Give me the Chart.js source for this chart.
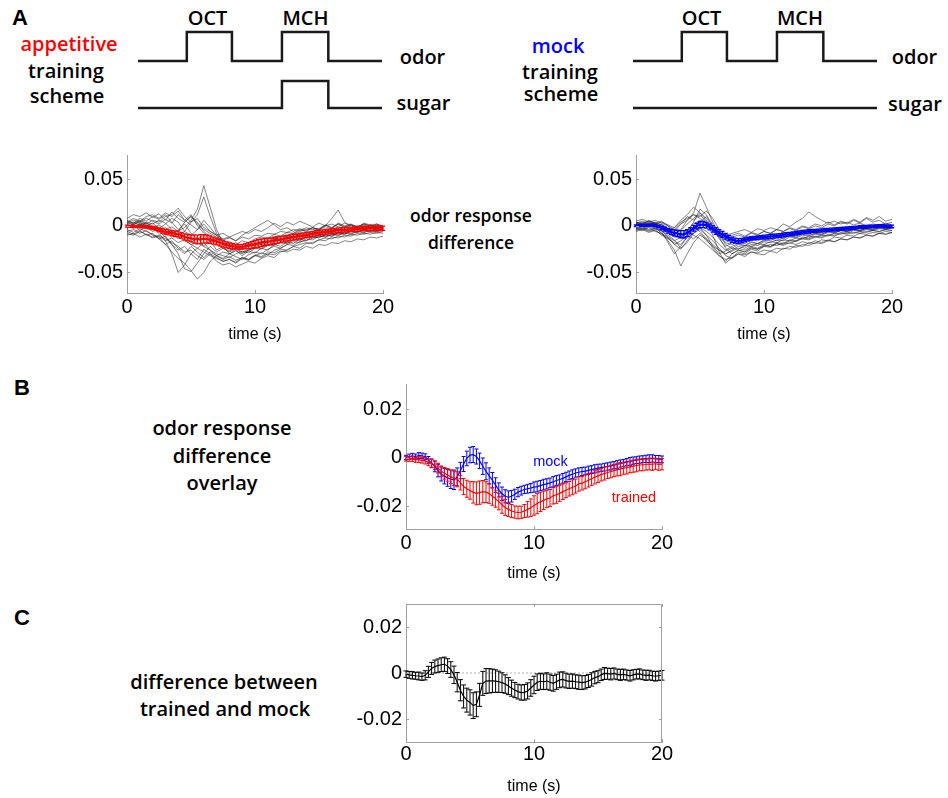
<!DOCTYPE html>
<html>
<head>
<meta charset="utf-8">
<script src="https://cdn.jsdelivr.net/npm/chart.js@4.4.1/dist/chart.umd.min.js"></script>
<style>
  body { margin: 0; background: #fff; width: 948px; height: 798px; overflow: hidden; position: relative; font-family: 'Open Sans', sans-serif; }
  canvas { position: absolute; }
  .lbl { position: absolute; transform: translate(-50%, -50%); line-height: 1; white-space: nowrap; font-weight: 600; color: #000; }
  .s20 { font-size: 20px; }
  .s17 { font-size: 17.5px; }
  .head { font-family: 'Liberation Sans', Arial, sans-serif; font-weight: 700; font-size: 22px; }
  .arial { font-family: 'Liberation Sans', Arial, sans-serif; font-weight: 400; font-size: 14.5px; }
</style>
</head>
<body>

<!-- panel A: training schemes -->
<div class="lbl head" style="left:20px;top:17.5px">A</div>
<div class="lbl s20" style="left:207.5px;top:17.6px">OCT</div>
<div class="lbl s20" style="left:305.5px;top:17.6px">MCH</div>
<div class="lbl s20" style="left:69px;top:44.3px;color:#ff0000">appetitive</div>
<div class="lbl s20" style="left:66px;top:71px">training</div>
<div class="lbl s20" style="left:67px;top:96px">scheme</div>
<div class="lbl s20" style="left:422.5px;top:57px">odor</div>
<div class="lbl s20" style="left:423.5px;top:102.6px">sugar</div>

<div class="lbl s20" style="left:701.5px;top:17.6px">OCT</div>
<div class="lbl s20" style="left:800px;top:17.6px">MCH</div>
<div class="lbl s20" style="left:558px;top:46px;color:#0000ff">mock</div>
<div class="lbl s20" style="left:560px;top:71.6px">training</div>
<div class="lbl s20" style="left:561px;top:93.5px">scheme</div>
<div class="lbl s20" style="left:914.5px;top:56.6px">odor</div>
<div class="lbl s20" style="left:915px;top:104.3px">sugar</div>

<div class="lbl s17" style="left:471px;top:216px">odor response</div>
<div class="lbl s17" style="left:471px;top:243px">difference</div>

<!-- panel B -->
<div class="lbl head" style="left:22px;top:388px">B</div>
<div class="lbl s20" style="left:222px;top:427.6px">odor response</div>
<div class="lbl s20" style="left:222px;top:455.6px">difference</div>
<div class="lbl s20" style="left:222px;top:482.6px">overlay</div>

<!-- panel C -->
<div class="lbl head" style="left:22px;top:618px">C</div>
<div class="lbl s20" style="left:224px;top:681.6px">difference between</div>
<div class="lbl s20" style="left:225px;top:708.6px">trained and mock</div>

<canvas id="schemeApp" width="260" height="96" style="left:130px;top:22px"></canvas>
<canvas id="schemeMock" width="260" height="96" style="left:625px;top:22px"></canvas>
<canvas id="traceTrained" width="336" height="207" style="left:67px;top:137px"></canvas>
<canvas id="traceMock" width="336" height="207" style="left:576px;top:137px"></canvas>
<canvas id="overlay" width="336" height="217" style="left:346px;top:366px"></canvas>
<canvas id="diff" width="336" height="210" style="left:346px;top:586px"></canvas>

<div class="lbl arial" style="left:550.5px;top:461px;color:#0000ff">mock</div>
<div class="lbl arial" style="left:634px;top:496.7px;color:#ff0000">trained</div>

<script>
// Scheme steps (time in % of trial, level 0/1)
const schemeX = [0, 20, 38.5, 59, 78, 100];
const odorOn = [0, 1, 0, 1, 0, 0];
const sugarAppetitive = [0, 0, 0, 1, 0, 0];
const sugarMock = [0, 0, 0, 0, 0, 0];

// Time bases (s)
const traceTime = [0, 0.5, 1, 1.5, 2, 2.5, 3, 3.5, 4, 4.5, 5, 5.5, 6, 6.5, 7, 7.5, 8, 8.5, 9, 9.5,
    10, 10.5, 11, 11.5, 12, 12.5, 13, 13.5, 14, 14.5, 15, 15.5, 16, 16.5, 17, 17.5, 18, 18.5, 19, 19.5, 20];
const meanTime = [0, 0.25, 0.5, 0.75, 1, 1.25, 1.5, 1.75, 2, 2.25, 2.5, 2.75, 3, 3.25, 3.5, 3.75,
    4, 4.25, 4.5, 4.75, 5, 5.25, 5.5, 5.75, 6, 6.25, 6.5, 6.75, 7, 7.25, 7.5, 7.75,
    8, 8.25, 8.5, 8.75, 9, 9.25, 9.5, 9.75, 10, 10.25, 10.5, 10.75, 11, 11.25, 11.5, 11.75,
    12, 12.25, 12.5, 12.75, 13, 13.25, 13.5, 13.75, 14, 14.25, 14.5, 14.75, 15, 15.25, 15.5, 15.75,
    16, 16.25, 16.5, 16.75, 17, 17.25, 17.5, 17.75, 18, 18.25, 18.5, 18.75, 19, 19.25, 19.5, 19.75, 20];

// Individual odor response differences, appetitive training
const trainedTraces = [
    [.002,.004,.001,.003,0,-.004,-.002,-.008,-.005,-.002,.006,.018,.043,.02,-.004,-.018,-.026,-.024,-.028,-.025,-.022,-.02,-.021,-.017,-.015,-.016,-.012,-.01,-.011,-.008,-.006,-.008,-.005,-.004,-.006,-.003,-.002,-.004,-.001,-.003,-.002],
    [-.003,.001,-.002,.004,.002,.006,.003,-.004,-.01,-.006,.004,.012,.031,.01,-.008,-.016,-.02,-.018,-.022,-.02,-.017,-.018,-.014,-.013,-.015,-.011,-.009,-.01,-.007,-.008,-.005,-.006,-.003,-.005,-.002,-.004,-.001,-.003,.001,-.002,-.001],
    [-.006,-.004,-.008,-.005,-.01,-.012,-.02,-.028,-.035,-.04,-.048,-.057,-.05,-.038,-.032,-.035,-.03,-.033,-.036,-.031,-.028,-.03,-.025,-.022,-.024,-.02,-.017,-.018,-.014,-.015,-.011,-.012,-.009,-.01,-.008,-.009,-.006,-.007,-.005,-.006,-.004],
    [.004,.001,.006,.003,-.002,-.008,-.016,-.03,-.05,-.042,-.03,-.036,-.025,-.03,-.034,-.038,-.036,-.04,-.035,-.037,-.032,-.029,-.031,-.026,-.024,-.02,-.021,-.017,-.016,-.013,-.012,-.01,-.011,-.008,-.009,-.006,-.007,-.004,-.006,-.005,-.003],
    [.008,.012,.01,.014,.009,.013,.006,.015,.008,.004,.01,.002,-.004,-.008,-.012,-.015,-.013,-.016,-.012,-.014,-.01,-.011,-.008,-.009,-.006,-.007,-.004,-.005,-.002,-.004,-.003,.001,-.002,.002,-.001,.001,-.002,.003,.001,.002,-.001],
    [-.002,.003,.005,.002,.006,.004,.01,.012,.019,.01,.004,.008,-.002,-.006,-.01,-.018,-.022,-.02,-.024,-.019,-.021,-.017,-.018,-.014,-.016,-.012,-.013,-.01,-.011,-.008,-.009,-.006,-.007,-.004,-.005,-.003,-.004,-.002,-.003,-.001,-.002],
    [.001,-.003,.002,-.001,-.004,-.002,-.008,-.006,-.012,-.016,-.02,-.018,-.022,-.026,-.03,-.032,-.034,-.03,-.027,-.029,-.024,-.022,-.018,-.015,-.012,-.01,-.008,-.006,-.004,-.002,-.004,0,.008,.017,.004,-.002,-.004,-.001,-.003,0,-.002],
    [-.008,-.01,-.006,-.009,-.012,-.01,-.014,-.018,-.022,-.028,-.026,-.032,-.036,-.03,-.038,-.042,-.04,-.044,-.041,-.038,-.04,-.035,-.032,-.034,-.028,-.026,-.022,-.024,-.019,-.018,-.015,-.016,-.012,-.013,-.01,-.011,-.008,-.009,-.007,-.008,-.006],
    [.005,.002,.004,0,.003,-.003,.002,.008,.004,-.006,-.01,-.004,.006,-.002,-.01,-.014,-.012,-.016,-.01,-.006,-.002,.002,.006,.001,-.004,-.002,-.006,-.003,-.005,-.002,-.004,-.001,-.003,.002,-.002,.001,-.003,.001,-.002,.002,0],
    [-.004,-.007,-.003,-.006,-.009,-.014,-.011,-.02,-.026,-.022,-.03,-.024,-.018,-.026,-.032,-.028,-.03,-.027,-.03,-.026,-.024,-.025,-.021,-.02,-.018,-.019,-.015,-.016,-.012,-.013,-.01,-.012,-.009,-.01,-.007,-.008,-.006,-.007,-.005,-.006,-.005],
    [0,-.002,.002,-.003,-.001,-.006,-.012,-.02,-.03,-.046,-.049,-.04,-.03,-.022,-.028,-.024,-.027,-.023,-.025,-.021,-.019,-.02,-.016,-.017,-.013,-.014,-.011,-.012,-.009,-.01,-.007,-.008,-.006,-.007,-.004,-.006,-.003,-.005,-.002,-.004,-.003],
    [.003,.006,.004,.008,.005,.002,.007,.003,.012,.006,.001,-.004,.002,-.006,-.01,-.008,-.012,-.009,-.006,-.008,-.004,-.006,-.002,.003,-.001,.004,.001,.005,.002,-.001,.003,0,.002,-.001,.003,.001,-.001,.002,0,-.002,-.001],
    [-.01,-.008,-.012,-.009,-.013,-.011,-.016,-.013,-.018,-.015,-.02,-.024,-.028,-.032,-.035,-.038,-.036,-.039,-.034,-.036,-.031,-.033,-.028,-.029,-.025,-.026,-.022,-.02,-.018,-.019,-.015,-.013,-.014,-.011,-.012,-.009,-.01,-.008,-.009,-.007,-.008],
    [.006,.003,.008,.005,.01,.007,.012,.004,-.004,.002,-.008,-.014,-.01,-.018,-.014,-.02,-.024,-.021,-.025,-.022,-.02,-.016,-.018,-.013,-.015,-.011,-.012,-.008,-.009,-.006,-.008,-.005,-.003,-.004,-.001,-.003,0,-.002,.001,-.001,0],
    [-.002,.002,-.005,-.001,-.006,-.003,-.01,-.006,-.014,-.01,-.018,-.012,-.022,-.016,-.026,-.022,-.03,-.026,-.032,-.027,-.029,-.024,-.026,-.02,-.022,-.017,-.019,-.014,-.016,-.011,-.013,-.009,-.011,-.007,-.009,-.005,-.007,-.004,-.006,-.003,-.005],
    [.004,.008,.005,.01,.012,.008,.014,.01,.016,.006,.012,0,-.008,-.014,-.02,-.024,-.028,-.025,-.029,-.026,-.023,-.024,-.02,-.021,-.017,-.018,-.014,-.015,-.011,-.012,-.009,-.01,-.007,-.008,-.005,-.006,-.004,-.005,-.003,-.004,-.002],
    [-.006,-.009,-.005,-.01,-.008,-.014,-.02,-.016,-.024,-.03,-.022,-.028,-.034,-.028,-.032,-.036,-.033,-.037,-.034,-.036,-.032,-.034,-.03,-.031,-.027,-.028,-.025,-.026,-.022,-.024,-.02,-.021,-.018,-.019,-.016,-.017,-.014,-.015,-.012,-.013,-.011],
    [.002,-.001,.003,.001,-.002,.001,-.004,-.001,-.006,.004,.01,.004,-.006,-.012,-.016,-.019,-.017,-.02,-.016,-.018,-.014,-.012,-.013,-.009,-.011,-.007,-.008,-.004,-.006,-.002,-.004,.001,-.002,.003,0,.002,-.001,.002,0,.001,-.001]
];

// Individual odor response differences, mock training
const mockTraces = [
    [.002,.004,.001,.003,-.002,-.006,-.01,-.004,.006,.014,.035,.02,.004,-.008,-.02,-.024,-.02,-.022,-.018,-.019,-.015,-.016,-.012,-.014,-.01,-.011,-.008,-.009,-.006,-.007,-.004,-.005,-.003,-.004,-.001,-.002,0,-.001,.001,0,-.001],
    [-.003,-.001,-.004,-.002,-.008,-.016,-.026,-.043,-.03,-.018,-.01,-.014,-.02,-.026,-.03,-.026,-.022,-.024,-.02,-.021,-.017,-.018,-.015,-.016,-.012,-.013,-.01,-.011,-.008,-.009,-.006,-.007,-.005,-.006,-.004,-.005,-.003,-.004,-.002,-.003,-.002],
    [.004,.002,.005,.003,.001,-.004,-.002,.006,.012,.02,.014,.006,-.01,-.028,-.04,-.034,-.028,-.03,-.025,-.027,-.022,-.023,-.019,-.02,-.016,-.017,-.013,-.014,-.011,-.012,-.009,-.01,-.007,-.008,-.005,-.006,-.004,-.005,-.003,-.004,-.002],
    [.001,.003,.005,.002,.004,.001,-.002,.004,.008,.012,.01,.016,.008,-.004,-.01,-.008,-.006,-.004,-.007,-.003,-.005,-.002,-.004,.002,-.001,.004,.008,.015,.01,.006,.003,.005,.002,.004,.001,.003,0,.002,.001,.003,.001],
    [-.005,-.003,-.006,-.004,-.01,-.014,-.018,-.02,-.012,-.008,-.004,-.01,-.016,-.024,-.032,-.035,-.03,-.033,-.028,-.03,-.031,-.027,-.029,-.024,-.025,-.021,-.022,-.018,-.019,-.015,-.016,-.012,-.013,-.01,-.011,-.008,-.009,-.007,-.008,-.006,-.007],
    [0,.002,-.001,.001,-.003,-.008,-.012,-.01,-.004,.002,.006,.002,-.004,-.012,-.018,-.02,-.017,-.019,-.015,-.016,-.013,-.014,-.011,-.012,-.009,-.01,-.007,-.008,-.006,-.007,-.005,-.006,-.004,-.005,-.003,-.002,-.003,-.001,-.002,0,-.001],
    [-.002,-.004,-.001,-.003,-.006,-.018,-.03,-.022,-.012,-.004,.004,.01,.002,-.01,-.016,-.014,-.018,-.012,-.014,-.01,-.012,-.008,-.01,-.007,-.009,-.006,-.008,-.005,-.007,-.004,-.006,-.003,-.005,-.002,-.004,-.001,-.003,0,-.002,.001,-.001],
    [.003,.001,.004,.002,-.001,-.006,-.004,-.012,-.008,-.002,-.006,-.014,-.024,-.032,-.038,-.03,-.026,-.028,-.024,-.025,-.022,-.02,-.021,-.018,-.019,-.016,-.014,-.015,-.012,-.013,-.01,-.011,-.008,-.009,-.007,-.008,-.006,-.005,-.006,-.004,-.005],
    [.005,.007,.004,.006,.003,0,-.006,.002,.01,.006,.012,.004,-.002,-.008,-.012,-.01,-.008,-.011,-.007,-.009,-.006,-.008,-.004,-.006,-.003,-.005,-.001,-.003,0,-.002,.002,0,.004,.002,.006,.003,.008,.004,.006,.002,.004],
    [-.006,-.004,-.007,-.005,-.009,-.013,-.02,-.016,-.01,-.014,-.008,-.016,-.022,-.026,-.03,-.027,-.024,-.026,-.022,-.024,-.02,-.022,-.019,-.021,-.018,-.02,-.017,-.019,-.016,-.018,-.015,-.017,-.014,-.015,-.012,-.013,-.01,-.011,-.008,-.009,-.007],
    [.001,-.001,.002,0,.002,-.003,-.009,-.014,-.006,.004,.018,.012,-.002,-.014,-.022,-.018,-.016,-.013,-.015,-.011,-.013,-.009,-.011,-.008,-.01,-.006,-.008,-.005,-.007,-.004,-.006,-.003,-.004,-.002,-.003,-.001,-.002,0,-.001,.001,0],
    [-.004,-.002,-.005,-.003,-.005,-.01,-.015,-.024,-.018,-.008,-.002,-.006,-.012,-.02,-.026,-.022,-.019,-.021,-.017,-.019,-.016,-.014,-.016,-.013,-.011,-.012,-.009,-.01,-.008,-.009,-.006,-.007,-.005,-.006,-.004,-.005,-.003,-.004,-.002,-.003,-.002],
    [.003,.005,.002,.004,.001,-.003,-.008,-.005,.002,.008,.014,.008,0,-.012,-.024,-.03,-.026,-.028,-.023,-.025,-.021,-.022,-.018,-.019,-.015,-.016,-.012,-.013,-.009,-.01,-.007,-.008,-.005,-.006,-.004,-.005,-.002,-.003,-.001,-.002,0],
    [-.001,-.003,0,-.002,-.005,-.012,-.02,-.025,-.016,-.006,-.002,-.01,-.022,-.03,-.027,-.024,-.025,-.021,-.022,-.019,-.02,-.017,-.018,-.015,-.016,-.013,-.014,-.011,-.012,-.01,-.011,-.008,-.009,-.007,-.008,-.006,-.007,-.005,-.006,-.004,-.005],
    [.004,.002,.006,.003,.005,0,-.004,.002,.006,.012,.008,.003,-.006,-.01,-.014,-.012,-.01,-.012,-.008,-.01,-.006,-.008,-.004,-.006,-.002,-.004,0,-.002,.002,0,.004,.001,.005,.003,.007,.004,.009,.006,.01,.005,.007],
    [-.003,-.005,-.002,-.006,-.008,-.012,-.016,-.012,-.006,-.01,-.014,-.02,-.026,-.032,-.036,-.034,-.03,-.031,-.028,-.029,-.026,-.027,-.024,-.025,-.022,-.023,-.02,-.021,-.018,-.019,-.016,-.017,-.014,-.015,-.012,-.013,-.01,-.011,-.008,-.009,-.007]
];

// Means and SEM (0.25 s bins)
const trainedMean = [
    -.0003,-.0005,-.0004,-.0008, -.0007,-.0010,-.0012,-.0018, -.0022,-.0030,-.0042,-.0055,
    -.0063,-.0070,-.0078,-.0084, -.0088,-.0102,-.0118,-.0127, -.0134,-.0142,-.0146,-.0143,
    -.0139,-.0141,-.0147,-.0158, -.0168,-.0180,-.0193,-.0204, -.0212,-.0219,-.0223,-.0225,
    -.0224,-.0219,-.0212,-.0205, -.0196,-.0188,-.0181,-.0175, -.0169,-.0165,-.0156,-.0152,
    -.0146,-.0139,-.0133,-.0127, -.0121,-.0116,-.0107,-.0104, -.0098,-.0092,-.0086,-.0079,
    -.0074,-.0069,-.0064,-.0060, -.0056,-.0052,-.0048,-.0046, -.0042,-.0040,-.0037,-.0034,
    -.0031,-.0029,-.0028,-.0027, -.0025,-.0026,-.0024,-.0027, -.0026];
const trainedSem = [
    .0010,.0009,.0011,.0010,.0012,.0011,.0013,.0014,
    .0016,.0018,.0020,.0022,.0024,.0026,
    .0028,.0030,.0031,.0030,
    .0033,.0035,.0036,
    .0044,.0047,.0048,.0046,.0043,
    .0040,.0037,.0035,.0034,.0035,.0033,
    .0029,.0027,.0025,.0026,.0025,.0027,
    .0032,.0036,.0040,.0042,.0040,.0038,
    .0036,.0035,.0034,.0035,.0033,.0032,.0031,.0030,
    .0031,.0029,.0030,.0028,.0029,.0028,.0027,.0028,
    .0027,.0026,.0027,.0025,.0026,.0025,.0026,.0027,.0025,.0026,.0024,.0025,.0026,.0024,.0025,.0023,.0024,.0025,.0023,.0024,.0023];

const mockMean = [
    .0002,.0006,.0008,.0006, .0010,.0009,.0005,-.0008, -.0022,-.0035,-.0052,-.0066,
    -.0075,-.0082,-.0088,-.0090, -.0078,-.0052,-.0025,-.0002, .0012,.0014,.0006,-.0012,
    -.0034,-.0055,-.0074,-.0092, -.0112,-.0132,-.0148,-.0158, -.0162,-.0158,-.0150,-.0141,
    -.0135,-.0130,-.0127,-.0124, -.0120,-.0118,-.0114,-.0110, -.0107,-.0103,-.0098,-.0093,
    -.0089,-.0084,-.0078,-.0072, -.0067,-.0062,-.0059,-.0056, -.0054,-.0051,-.0048,-.0045,
    -.0042,-.0040,-.0038,-.0035, -.0033,-.0030,-.0027,-.0023, -.0020,-.0017,-.0014,-.0011,
    -.0009,-.0007,-.0005,-.0004, -.0003,-.0002,-.0004,-.0005, -.0006];
const mockSem = [
    .0009,.0010,.0011,.0010,.0012,.0011,.0012,.0014,
    .0018,.0022,.0026,.0029,
    .0032,.0035,.0038,.0040,.0037,.0034,
    .0031,.0030,.0032,.0033,.0031,.0032,
    .0034,.0035,.0033,.0032,
    .0030,.0029,.0028,.0027,.0026,.0024,
    .0021,.0019,.0018,.0017,.0018,.0019,
    .0021,.0022,.0021,.0022,.0021,.0020,.0021,.0020,.0019,.0020,.0019,.0018,
    .0018,.0017,.0018,.0017,.0016,.0017,.0016,.0017,.0016,.0015,.0016,.0015,.0016,.0015,.0016,
    .0015,.0014,.0015,.0016,.0015,.0014,.0015,.0014,.0015,.0016,.0015,.0014,.0015,.0014];

const diffMean = [
    -.0005,-.0008,-.0010,-.0012, -.0013,-.0016,-.0010,.0005, .0020,.0028,.0032,.0036,
    .0038,.0030,.0015,-.0008, -.0040,-.0075,-.0102,-.0118, -.0128,-.0142,-.0136,-.0095,
    -.0045,-.0035,-.0034,-.0034, -.0035,-.0038,-.0042,-.0048, -.0057,-.0066,-.0074,-.0081,
    -.0085,-.0084,-.0078,-.0065, -.0052,-.0040,-.0036,-.0038, -.0035,-.0040,-.0045,-.0038,
    -.0030,-.0028,-.0033,-.0036, -.0035,-.0038,-.0040,-.0042, -.0040,-.0035,-.0028,-.0020,
    -.0016,-.0008,-.0002,-.0003, -.0005,-.0002,-.0006,-.0008, -.0006,-.0009,-.0012,-.0008,
    -.0005,-.0004,-.0008,-.0010, -.0009,-.0012,-.0014,-.0012, -.0010];
const diffSem = [
    .0014,.0015,.0016,.0015,.0017,.0016,
    .0020,.0024,.0026,.0028,.0029,.0030,.0031,.0032,
    .0034,.0038,
    .0042,.0046,.0050,.0052,.0055,.0056,.0054,.0050,
    .0052,.0054,.0053,.0051,.0049,.0046,.0043,.0040,
    .0037,.0035,.0033,.0032,.0033,.0034,.0035,.0036,
    .0038,.0036,.0035,.0034,.0036,.0035,.0034,.0033,.0034,.0033,.0032,.0031,
    .0031,.0030,.0031,.0030,.0029,.0028,.0029,.0027,
    .0026,.0025,.0026,.0024,.0025,.0024,.0023,.0024,.0023,.0022,.0023,.0022,.0021,.0022,.0021,.0022,.0021,.0020,.0021,.0020,.0021];

const zeroLineX = [0, 20];
const zeroLineY = [0, 0];

// Axis ticks
const xTicks = [0, 10, 20];
const aYTicks = [-0.05, 0, 0.05];
const aYLabels = ['-0.05', '0', '0.05'];
const bcYTicks = [-0.02, 0, 0.02];
const bcYLabels = ['-0.02', '0', '0.02'];

const AXIS_GRAY = '#a0a0a0';
const TICK_FONT = { family: "'Liberation Sans', Arial, sans-serif", size: 20 };
Chart.defaults.font.family = TICK_FONT.family;
Chart.defaults.color = '#000';

function pts(xs, ys) {
    return xs.map((x, i) => ({ x: x, y: ys[i] }));
}

// vertical error bars with caps, drawn right after their dataset
const errorBars = {
    id: 'errorBars',
    afterDatasetDraw(chart, args) {
        const ds = chart.data.datasets[args.index];
        if (!ds.errors) return;
        const yScale = chart.scales.y;
        const ctx = chart.ctx;
        const cap = ds.capHalf || 2;
        ctx.save();
        ctx.strokeStyle = ds.borderColor;
        ctx.lineWidth = ds.errWidth || 1;
        ctx.beginPath();
        args.meta.data.forEach((pt, k) => {
            const v = ds.data[k].y;
            const e = ds.errors[k];
            const top = yScale.getPixelForValue(v + e);
            const bot = yScale.getPixelForValue(v - e);
            ctx.moveTo(pt.x, top); ctx.lineTo(pt.x, bot);
            ctx.moveTo(pt.x - cap, top); ctx.lineTo(pt.x + cap, top);
            ctx.moveTo(pt.x - cap, bot); ctx.lineTo(pt.x + cap, bot);
        });
        ctx.stroke();
        ctx.restore();
    }
};

// small inward tick marks (and optional full box)
const innerTicks = {
    id: 'innerTicks',
    afterDraw(chart, args, opts) {
        const { ctx, chartArea: a, scales } = chart;
        const len = 3;
        ctx.save();
        ctx.strokeStyle = AXIS_GRAY;
        ctx.lineWidth = 1;
        ctx.beginPath();
        scales.x.ticks.forEach(t => {
            const px = Math.round(scales.x.getPixelForValue(t.value)) + 0.5;
            ctx.moveTo(px, a.bottom); ctx.lineTo(px, a.bottom - len);
            if (opts.box) { ctx.moveTo(px, a.top); ctx.lineTo(px, a.top + len); }
        });
        scales.y.ticks.forEach(t => {
            const py = Math.round(scales.y.getPixelForValue(t.value)) + 0.5;
            ctx.moveTo(a.left, py); ctx.lineTo(a.left + len, py);
            if (opts.box) { ctx.moveTo(a.right, py); ctx.lineTo(a.right - len, py); }
        });
        if (opts.box) {
            ctx.moveTo(Math.round(a.left) + 0.5, Math.round(a.top) + 0.5);
            ctx.lineTo(Math.round(a.right) - 0.5, Math.round(a.top) + 0.5);
            ctx.lineTo(Math.round(a.right) - 0.5, Math.round(a.bottom) + 0.5);
        }
        ctx.stroke();
        ctx.restore();
    }
};

function schemeChart(id, sugar) {
    const line = { borderColor: '#1a1a1a', borderWidth: 2.5, stepped: 'before', clip: false, borderCapStyle: 'butt' };
    return new Chart(document.getElementById(id), {
        type: 'line',
        data: {
            datasets: [
                { ...line, data: pts(schemeX, odorOn), yAxisID: 'yOdor' },
                { ...line, data: pts(schemeX, sugar), yAxisID: 'ySugar' }
            ]
        },
        options: {
            responsive: false, animation: false, devicePixelRatio: 1,
            layout: { padding: { left: 8, right: 8, top: 10, bottom: 10 } },
            elements: { point: { radius: 0 } },
            plugins: { legend: { display: false }, tooltip: { enabled: false } },
            scales: {
                x: { type: 'linear', min: 0, max: 100, display: false },
                yOdor: { min: -1.62, max: 1, display: false },
                ySugar: { min: 0, max: 2.815, display: false }
            }
        }
    });
}

function traceChart(id, datasets, cfg) {
    return new Chart(document.getElementById(id), {
        type: 'line',
        data: { datasets: datasets },
        options: {
            responsive: false, animation: false, devicePixelRatio: 1,
            layout: { padding: { top: 18, right: 20, left: 0, bottom: 0 } },
            elements: { point: { radius: 0 }, line: { tension: 0 } },
            plugins: { legend: { display: false }, tooltip: { enabled: false }, innerTicks: { box: cfg.box } },
            scales: {
                x: {
                    type: 'linear', min: 0, max: 20,
                    afterBuildTicks: s => { s.ticks = xTicks.map(v => ({ value: v })); },
                    ticks: { padding: cfg.xPad, font: TICK_FONT, maxRotation: 0, autoSkip: false },
                    grid: { display: false, drawTicks: false },
                    border: { color: AXIS_GRAY, width: 1 },
                    title: { display: true, text: 'time (s)', font: { size: 16 }, padding: 0 },
                    afterFit: s => { s.height = cfg.xH; }
                },
                y: {
                    min: cfg.yMin, max: cfg.yMax,
                    afterBuildTicks: s => { s.ticks = cfg.yTicks.map(v => ({ value: v })); },
                    ticks: { padding: 4, font: TICK_FONT, callback: (v, i) => cfg.yLabels[i] },
                    grid: { display: false, drawTicks: false },
                    border: { color: AXIS_GRAY, width: 1 },
                    afterFit: s => { s.width = 60; }
                }
            }
        },
        plugins: [errorBars, innerTicks]
    });
}

function grayTraces(list) {
    return list.map(tr => ({
        data: pts(traceTime, tr), borderColor: 'rgba(35,35,35,0.8)', borderWidth: 0.7
    }));
}

schemeChart('schemeApp', sugarAppetitive);
schemeChart('schemeMock', sugarMock);

traceChart('traceTrained', [
    { data: pts(meanTime, trainedMean), errors: trainedSem, borderColor: '#ff0000', borderWidth: 2.2, errWidth: 1.3, capHalf: 2.2 },
    ...grayTraces(trainedTraces)
], { yMin: -0.072, yMax: 0.076, yTicks: aYTicks, yLabels: aYLabels, xH: 51, xPad: 2, box: false });

traceChart('traceMock', [
    { data: pts(meanTime, mockMean), errors: mockSem, borderColor: '#0000ff', borderWidth: 2.2, errWidth: 1.3, capHalf: 2.2 },
    ...grayTraces(mockTraces)
], { yMin: -0.072, yMax: 0.076, yTicks: aYTicks, yLabels: aYLabels, xH: 51, xPad: 2, box: false });

traceChart('overlay', [
    { data: pts(meanTime, trainedMean), errors: trainedSem, borderColor: '#ff0000', borderWidth: 1.2, capHalf: 2 },
    { data: pts(meanTime, mockMean), errors: mockSem, borderColor: '#0000ff', borderWidth: 1.2, capHalf: 2 }
], { yMin: -0.0293, yMax: 0.0305, yTicks: bcYTicks, yLabels: bcYLabels, xH: 54, xPad: 2, box: false });

traceChart('diff', [
    { data: pts(meanTime, diffMean), errors: diffSem, borderColor: '#000000', borderWidth: 1.2, capHalf: 2.5 },
    { data: pts(zeroLineX, zeroLineY), borderColor: '#9a9a9a', borderWidth: 0.8, borderDash: [2, 2] }
], { yMin: -0.03, yMax: 0.03, yTicks: bcYTicks, yLabels: bcYLabels, xH: 54, xPad: 0, box: true });
</script>
</body>
</html>
